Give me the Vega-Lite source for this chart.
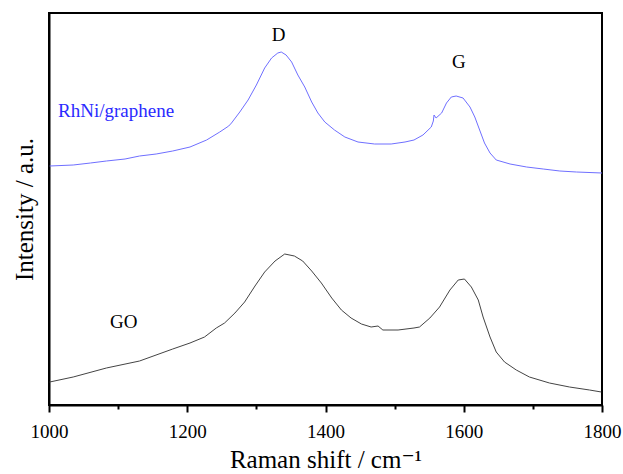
{
  "$schema": "https://vega.github.io/schema/vega-lite/v6.json",
  "width": 553,
  "height": 392,
  "autosize": {"type": "none"},
  "padding": {"left": 49, "top": 13, "right": 21, "bottom": 69},
  "background": "white",
  "config": {
    "view": {"stroke": "black", "strokeWidth": 2},
    "font": "Liberation Serif, Times New Roman, DejaVu Serif, serif"
  },
  "datasets": {
    "spectra": [
      {"shift": 1001, "intensity": 239, "sample": "RhNi/graphene"},
      {"shift": 1035, "intensity": 240, "sample": "RhNi/graphene"},
      {"shift": 1060, "intensity": 242, "sample": "RhNi/graphene"},
      {"shift": 1083, "intensity": 244, "sample": "RhNi/graphene"},
      {"shift": 1110, "intensity": 246, "sample": "RhNi/graphene"},
      {"shift": 1131, "intensity": 249, "sample": "RhNi/graphene"},
      {"shift": 1155, "intensity": 251, "sample": "RhNi/graphene"},
      {"shift": 1179, "intensity": 254, "sample": "RhNi/graphene"},
      {"shift": 1204, "intensity": 258, "sample": "RhNi/graphene"},
      {"shift": 1228, "intensity": 265, "sample": "RhNi/graphene"},
      {"shift": 1247, "intensity": 273, "sample": "RhNi/graphene"},
      {"shift": 1260, "intensity": 279, "sample": "RhNi/graphene"},
      {"shift": 1264, "intensity": 282, "sample": "RhNi/graphene"},
      {"shift": 1276, "intensity": 293, "sample": "RhNi/graphene"},
      {"shift": 1288, "intensity": 305, "sample": "RhNi/graphene"},
      {"shift": 1300, "intensity": 320, "sample": "RhNi/graphene"},
      {"shift": 1312, "intensity": 337, "sample": "RhNi/graphene"},
      {"shift": 1322, "intensity": 347, "sample": "RhNi/graphene"},
      {"shift": 1331, "intensity": 352, "sample": "RhNi/graphene"},
      {"shift": 1336, "intensity": 353, "sample": "RhNi/graphene"},
      {"shift": 1343, "intensity": 350, "sample": "RhNi/graphene"},
      {"shift": 1351, "intensity": 343, "sample": "RhNi/graphene"},
      {"shift": 1360, "intensity": 330, "sample": "RhNi/graphene"},
      {"shift": 1370, "intensity": 318, "sample": "RhNi/graphene"},
      {"shift": 1380, "intensity": 303, "sample": "RhNi/graphene"},
      {"shift": 1389, "intensity": 292, "sample": "RhNi/graphene"},
      {"shift": 1399, "intensity": 283, "sample": "RhNi/graphene"},
      {"shift": 1413, "intensity": 275, "sample": "RhNi/graphene"},
      {"shift": 1428, "intensity": 268, "sample": "RhNi/graphene"},
      {"shift": 1447, "intensity": 263, "sample": "RhNi/graphene"},
      {"shift": 1471, "intensity": 261, "sample": "RhNi/graphene"},
      {"shift": 1495, "intensity": 261, "sample": "RhNi/graphene"},
      {"shift": 1515, "intensity": 263, "sample": "RhNi/graphene"},
      {"shift": 1528, "intensity": 265, "sample": "RhNi/graphene"},
      {"shift": 1541, "intensity": 270, "sample": "RhNi/graphene"},
      {"shift": 1553, "intensity": 278, "sample": "RhNi/graphene"},
      {"shift": 1556, "intensity": 284, "sample": "RhNi/graphene"},
      {"shift": 1557, "intensity": 290, "sample": "RhNi/graphene"},
      {"shift": 1560, "intensity": 287, "sample": "RhNi/graphene"},
      {"shift": 1568, "intensity": 292, "sample": "RhNi/graphene"},
      {"shift": 1575, "intensity": 302, "sample": "RhNi/graphene"},
      {"shift": 1582, "intensity": 308, "sample": "RhNi/graphene"},
      {"shift": 1589, "intensity": 309, "sample": "RhNi/graphene"},
      {"shift": 1599, "intensity": 307, "sample": "RhNi/graphene"},
      {"shift": 1609, "intensity": 298, "sample": "RhNi/graphene"},
      {"shift": 1616, "intensity": 288, "sample": "RhNi/graphene"},
      {"shift": 1623, "intensity": 275, "sample": "RhNi/graphene"},
      {"shift": 1630, "intensity": 262, "sample": "RhNi/graphene"},
      {"shift": 1638, "intensity": 252, "sample": "RhNi/graphene"},
      {"shift": 1647, "intensity": 245, "sample": "RhNi/graphene"},
      {"shift": 1667, "intensity": 241, "sample": "RhNi/graphene"},
      {"shift": 1691, "intensity": 238, "sample": "RhNi/graphene"},
      {"shift": 1715, "intensity": 236, "sample": "RhNi/graphene"},
      {"shift": 1739, "intensity": 234, "sample": "RhNi/graphene"},
      {"shift": 1763, "intensity": 233, "sample": "RhNi/graphene"},
      {"shift": 1800, "intensity": 232, "sample": "RhNi/graphene"},
      {"shift": 1001, "intensity": 23, "sample": "GO"},
      {"shift": 1035, "intensity": 28, "sample": "GO"},
      {"shift": 1083, "intensity": 37, "sample": "GO"},
      {"shift": 1131, "intensity": 44, "sample": "GO"},
      {"shift": 1179, "intensity": 56, "sample": "GO"},
      {"shift": 1204, "intensity": 62, "sample": "GO"},
      {"shift": 1225, "intensity": 68, "sample": "GO"},
      {"shift": 1242, "intensity": 77, "sample": "GO"},
      {"shift": 1254, "intensity": 82, "sample": "GO"},
      {"shift": 1269, "intensity": 92, "sample": "GO"},
      {"shift": 1283, "intensity": 103, "sample": "GO"},
      {"shift": 1298, "intensity": 119, "sample": "GO"},
      {"shift": 1312, "intensity": 133, "sample": "GO"},
      {"shift": 1327, "intensity": 144, "sample": "GO"},
      {"shift": 1341, "intensity": 151, "sample": "GO"},
      {"shift": 1355, "intensity": 149, "sample": "GO"},
      {"shift": 1367, "intensity": 144, "sample": "GO"},
      {"shift": 1380, "intensity": 134, "sample": "GO"},
      {"shift": 1394, "intensity": 122, "sample": "GO"},
      {"shift": 1409, "intensity": 107, "sample": "GO"},
      {"shift": 1423, "intensity": 95, "sample": "GO"},
      {"shift": 1437, "intensity": 87, "sample": "GO"},
      {"shift": 1452, "intensity": 81, "sample": "GO"},
      {"shift": 1466, "intensity": 78, "sample": "GO"},
      {"shift": 1476, "intensity": 79, "sample": "GO"},
      {"shift": 1483, "intensity": 75, "sample": "GO"},
      {"shift": 1505, "intensity": 75, "sample": "GO"},
      {"shift": 1528, "intensity": 77, "sample": "GO"},
      {"shift": 1536, "intensity": 78, "sample": "GO"},
      {"shift": 1551, "intensity": 87, "sample": "GO"},
      {"shift": 1565, "intensity": 98, "sample": "GO"},
      {"shift": 1580, "intensity": 115, "sample": "GO"},
      {"shift": 1592, "intensity": 125, "sample": "GO"},
      {"shift": 1601, "intensity": 126, "sample": "GO"},
      {"shift": 1611, "intensity": 118, "sample": "GO"},
      {"shift": 1621, "intensity": 105, "sample": "GO"},
      {"shift": 1628, "intensity": 88, "sample": "GO"},
      {"shift": 1638, "intensity": 68, "sample": "GO"},
      {"shift": 1647, "intensity": 53, "sample": "GO"},
      {"shift": 1659, "intensity": 43, "sample": "GO"},
      {"shift": 1676, "intensity": 35, "sample": "GO"},
      {"shift": 1695, "intensity": 28, "sample": "GO"},
      {"shift": 1724, "intensity": 22, "sample": "GO"},
      {"shift": 1753, "intensity": 18, "sample": "GO"},
      {"shift": 1782, "intensity": 15, "sample": "GO"},
      {"shift": 1799, "intensity": 13, "sample": "GO"}
    ],
    "labels": [
      {"shift": 1097, "intensity": 294, "text": "RhNi/graphene", "kind": "RhNi/graphene"},
      {"shift": 1332, "intensity": 370, "text": "D", "kind": "peak"},
      {"shift": 1593, "intensity": 343, "text": "G", "kind": "peak"},
      {"shift": 1108, "intensity": 83, "text": "GO", "kind": "GO"}
    ]
  },
  "layer": [
    {
      "data": {"name": "spectra"},
      "mark": {"type": "line", "strokeWidth": 1, "interpolate": "linear"},
      "encoding": {
        "x": {
          "field": "shift", "type": "quantitative",
          "scale": {"domain": [1000, 1800], "nice": false, "zero": false},
          "axis": {
            "title": "Raman shift / cm⁻¹",
            "titleFont": "Liberation Serif, Times New Roman, DejaVu Serif, serif", "titleFontSize": 25, "titleFontWeight": "normal", "titleColor": "black",
            "titlePadding": 6,
            "values": [1000, 1100, 1200, 1300, 1400, 1500, 1600, 1700, 1800],
            "labelExpr": "datum.value % 200 == 0 ? datum.label : ''",
            "format": "d",
            "labelFont": "Liberation Serif, Times New Roman, DejaVu Serif, serif", "labelFontSize": 19, "labelColor": "black",
            "labelPadding": 10, "labelFlush": false, "labelOverlap": false,
            "grid": false,
            "domainColor": "black", "domainWidth": 2,
            "tickColor": "black", "tickWidth": 2,
            "tickSize": {"condition": {"test": "datum.value % 200 == 0", "value": 7}, "value": 4}
          }
        },
        "y": {
          "field": "intensity", "type": "quantitative",
          "scale": {"domain": [0, 392], "nice": false},
          "axis": {
            "title": "Intensity / a.u.",
            "titleFont": "Liberation Serif, Times New Roman, DejaVu Serif, serif", "titleFontSize": 25, "titleFontWeight": "normal", "titleColor": "black",
            "titlePadding": 12,
            "labels": false, "ticks": false, "grid": false,
            "domainColor": "black", "domainWidth": 2
          }
        },
        "color": {
          "field": "sample", "type": "nominal",
          "scale": {"domain": ["RhNi/graphene", "GO"], "range": ["#6f6fff", "#444444"]},
          "legend": null
        },
        "detail": {"field": "sample"}
      }
    },
    {
      "data": {"name": "labels"},
      "mark": {"type": "text", "font": "Liberation Serif, Times New Roman, DejaVu Serif, serif", "fontSize": 19, "baseline": "middle", "align": "center"},
      "encoding": {
        "x": {"field": "shift", "type": "quantitative"},
        "y": {"field": "intensity", "type": "quantitative"},
        "text": {"field": "text"},
        "color": {
          "field": "kind", "type": "nominal",
          "scale": {"domain": ["RhNi/graphene", "peak", "GO"], "range": ["#2a2aff", "black", "black"]},
          "legend": null
        }
      }
    }
  ],
  "resolve": {"scale": {"color": "independent"}}
}
